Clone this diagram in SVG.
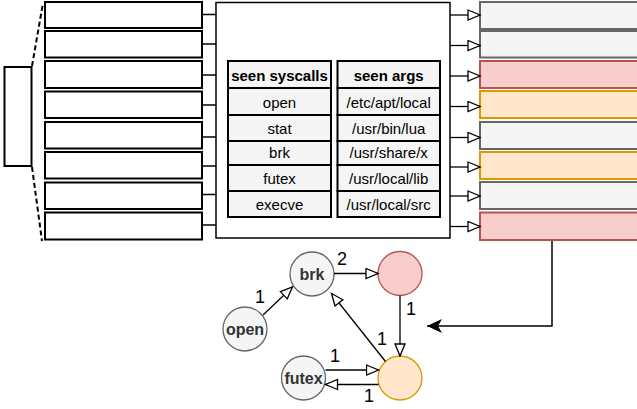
<svg xmlns="http://www.w3.org/2000/svg" width="637" height="409" viewBox="0 0 637 409">
  <defs>
    <style>
      .blk { fill: #ffffff; stroke: #000000; stroke-width: 2; }
      .big { fill: #ffffff; stroke: #000000; stroke-width: 1.5; }
      .cell { fill: #f5f5f5; stroke: #000000; stroke-width: 2; }
      .gray { fill: #f5f5f5; stroke: #666666; stroke-width: 2; }
      .red { fill: #f8cecc; stroke: #b85450; stroke-width: 2; }
      .orange { fill: #ffe6cc; stroke: #d79b00; stroke-width: 2; }
      .ngray { fill: #f5f5f5; stroke: #666666; stroke-width: 1.3; }
      .nred { fill: #f8cecc; stroke: #b85450; stroke-width: 1.3; }
      .norange { fill: #ffe6cc; stroke: #d79b00; stroke-width: 1.3; }
      .wire { fill: none; stroke: #000000; stroke-width: 1.5; }
      .edge { fill: none; stroke: #000000; stroke-width: 1.3; marker-end: url(#openArrow); }
      .dash { fill: none; stroke: #000000; stroke-width: 2; stroke-dasharray: 5 3; }
      text { font-family: "Liberation Sans", Arial, sans-serif; fill: #000000; }
      .hd { font-size: 15px; font-weight: bold; text-anchor: middle; }
      .tx { font-size: 15px; text-anchor: middle; }
      .nl { font-size: 16px; font-weight: bold; text-anchor: middle; fill: #333333; }
      .el { font-size: 18px; text-anchor: middle; }
    </style>
    <marker id="openArrow" markerUnits="userSpaceOnUse" markerWidth="16" markerHeight="14" refX="13" refY="6" orient="auto">
      <path d="M1,1 L13,6 L1,11 Z" fill="#ffffff" stroke="#000000" stroke-width="1.3"/>
    </marker>
    <marker id="solidArrow" markerUnits="userSpaceOnUse" markerWidth="18" markerHeight="16" refX="15" refY="7" orient="auto">
      <path d="M0,0 L15,7 L0,14 L4,7 Z" fill="#000000"/>
    </marker>
  </defs>

  <!-- zoom source block with dashed expansion lines -->
  <g id="source">
    <rect class="blk" x="4.5" y="67" width="27" height="99"/>
    <line class="dash" x1="32" y1="66" x2="43" y2="3"/>
    <line class="dash" x1="32" y1="167" x2="42" y2="241"/>
  </g>

  <!-- expanded input slots -->
  <g id="inputs">
    <rect class="blk" x="45" y="2" width="157" height="26"/>
    <rect class="blk" x="45" y="31" width="157" height="26.5"/>
    <rect class="blk" x="45" y="61" width="157" height="27"/>
    <rect class="blk" x="45" y="91.5" width="157" height="26.5"/>
    <rect class="blk" x="45" y="122" width="157" height="26.5"/>
    <rect class="blk" x="45" y="152" width="157" height="26.5"/>
    <rect class="blk" x="45" y="182.5" width="157" height="26.5"/>
    <rect class="blk" x="45" y="212.5" width="157" height="27"/>
  </g>

  <!-- filter block holding the lookup tables -->
  <g id="filter">
    <rect class="big" x="216" y="2.5" width="234" height="235.5"/>
  </g>

  <g id="syscalls-table">
    <rect class="cell" x="228" y="61" width="103" height="27"/>
    <rect class="cell" x="228" y="88" width="103" height="27"/>
    <rect class="cell" x="228" y="115" width="103" height="26"/>
    <rect class="cell" x="228" y="141" width="103" height="24"/>
    <rect class="cell" x="228" y="165" width="103" height="26"/>
    <rect class="cell" x="228" y="191" width="103" height="26"/>
    <text class="hd" x="279.5" y="81">seen syscalls</text>
    <text class="tx" x="279.5" y="108">open</text>
    <text class="tx" x="279.5" y="134">stat</text>
    <text class="tx" x="279.5" y="158">brk</text>
    <text class="tx" x="279.5" y="184">futex</text>
    <text class="tx" x="279.5" y="210">execve</text>
  </g>

  <g id="args-table">
    <rect class="cell" x="337.5" y="61" width="102.5" height="27"/>
    <rect class="cell" x="337.5" y="88" width="102.5" height="27"/>
    <rect class="cell" x="337.5" y="115" width="102.5" height="26"/>
    <rect class="cell" x="337.5" y="141" width="102.5" height="24"/>
    <rect class="cell" x="337.5" y="165" width="102.5" height="26"/>
    <rect class="cell" x="337.5" y="191" width="102.5" height="26"/>
    <text class="hd" x="388.7" y="81">seen args</text>
    <text class="tx" x="388.7" y="108">/etc/apt/local</text>
    <text class="tx" x="388.7" y="134">/usr/bin/lua</text>
    <text class="tx" x="388.7" y="158">/usr/share/x</text>
    <text class="tx" x="388.7" y="184">/usr/local/lib</text>
    <text class="tx" x="388.7" y="210">/usr/local/src</text>
  </g>

  <!-- classified output slots -->
  <g id="outputs">
    <rect class="gray" x="480" y="2" width="170" height="27"/>
    <rect class="gray" x="480" y="31" width="170" height="26.5"/>
    <rect class="red" x="480" y="61" width="170" height="27"/>
    <rect class="orange" x="480" y="91" width="170" height="27"/>
    <rect class="gray" x="480" y="122" width="170" height="27"/>
    <rect class="orange" x="480" y="152" width="170" height="27"/>
    <rect class="gray" x="480" y="182" width="170" height="27"/>
    <rect class="red" x="480" y="212.5" width="170" height="27.5"/>
  </g>

  <!-- graph nodes -->
  <g id="node-brk">
    <circle class="ngray" cx="312" cy="274" r="22"/>
    <text class="nl" x="312" y="280">brk</text>
  </g>
  <g id="node-red">
    <circle class="nred" cx="400" cy="273.5" r="22"/>
  </g>
  <g id="node-open">
    <circle class="ngray" cx="245" cy="329" r="22"/>
    <text class="nl" x="245" y="335">open</text>
  </g>
  <g id="node-futex">
    <circle class="ngray" cx="303.5" cy="378" r="22"/>
    <text class="nl" x="303.5" y="384">futex</text>
  </g>
  <g id="node-orange">
    <circle class="norange" cx="400" cy="378" r="22"/>
  </g>

  <!-- connectors -->
  <g id="connectors">
    <line class="wire" x1="202" y1="14.5" x2="216" y2="14.5"/>
    <line class="wire" x1="202" y1="44" x2="216" y2="44"/>
    <line class="wire" x1="202" y1="75" x2="216" y2="75"/>
    <line class="wire" x1="202" y1="105" x2="216" y2="105"/>
    <line class="wire" x1="202" y1="137" x2="216" y2="137"/>
    <line class="wire" x1="202" y1="166" x2="216" y2="166"/>
    <line class="wire" x1="202" y1="194.5" x2="216" y2="194.5"/>
    <line class="wire" x1="202" y1="225" x2="216" y2="225"/>

    <line class="edge" x1="450" y1="15" x2="480" y2="15"/>
    <line class="edge" x1="450" y1="45.5" x2="480" y2="45.5"/>
    <line class="edge" x1="450" y1="76" x2="480" y2="76"/>
    <line class="edge" x1="450" y1="106.5" x2="480" y2="106.5"/>
    <line class="edge" x1="450" y1="137.5" x2="480" y2="137.5"/>
    <line class="edge" x1="450" y1="167" x2="480" y2="167"/>
    <line class="edge" x1="450" y1="196" x2="480" y2="196"/>
    <line class="edge" x1="450" y1="226.5" x2="480" y2="226.5"/>

    <path d="M552,241 L552,326 L427,326" fill="none" stroke="#000000" stroke-width="1.5" marker-end="url(#solidArrow)"/>

    <line class="edge" x1="263" y1="315" x2="292.5" y2="287"/>
    <line class="edge" x1="334" y1="273.5" x2="378" y2="273.5"/>
    <line class="edge" x1="400" y1="295.5" x2="400" y2="356"/>
    <line class="edge" x1="385.5" y1="361.5" x2="331.5" y2="293.5"/>
    <line class="edge" x1="325.5" y1="370" x2="378.5" y2="370"/>
    <line class="edge" x1="378.5" y1="384.5" x2="325.5" y2="384.5"/>

    <text class="el" x="260" y="303">1</text>
    <text class="el" x="342" y="265">2</text>
    <text class="el" x="411" y="315">1</text>
    <text class="el" x="382" y="345">1</text>
    <text class="el" x="335" y="362">1</text>
    <text class="el" x="369" y="402">1</text>
  </g>
</svg>
